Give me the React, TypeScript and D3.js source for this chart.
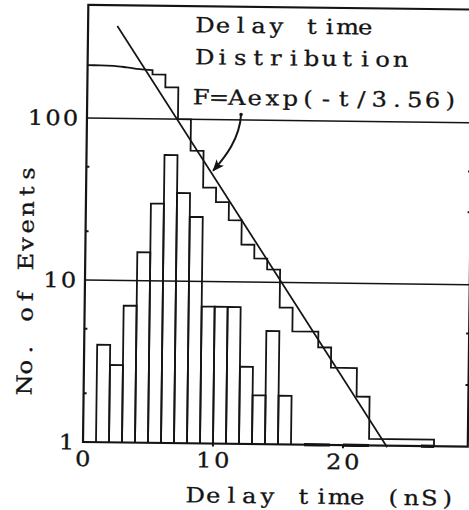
import React from 'react';
import * as d3 from 'd3';

// ---- data ----
const binStarts = [1, 2, 3, 4, 5, 6, 7, 8, 9, 10, 11, 12, 13, 14, 15, 17, 18, 20, 21, 26];
const binCounts = [4, 3, 7, 15, 30, 60, 35, 25, 7, 7, 7, 3, 2, 5, 2, 1, 1, 1, 1, 1];

const headTimes = [0, 1, 2, 3, 4, 5];
const headCounts = [212, 212, 211, 207, 202, 200];
const stepStarts = [5, 6, 7, 8, 9, 10, 11, 12, 13, 14, 15, 16, 18, 19, 21, 22];
const stepEnds = [6, 7, 8, 9, 10, 11, 12, 13, 14, 15, 16, 18, 19, 21, 22, 27];
const stepCounts = [188, 157, 100, 64, 38, 31, 24, 17, 14, 12, 7, 5, 4, 3, 2, 1.1];

const fitA = 700;
const fitTau = 3.56;
const fitRange = [2.25, 23.4];

const yTickValues = [1, 10, 100];
const yTickLabels = ['1', '10', '100'];
const yGridValues = [10, 100];
const yMinorLeft = [2, 5, 20, 50];
const yMinorRight = [2.4, 5, 28, 50];
const xTickValues = [0, 10, 20];
const xTickLabels = ['0', '10', '20'];
const xMinor = [10, 20];

const titleLines = ['Delay time', 'Distribution'];
const fitLabel = 'F=Aexp(-t/3.56)';
const xTitle = 'Delay time (nS)';
const yTitle = 'No. of Events';
const arrowFrom = [11.85, 108];
const arrowTo = [9.6, 47];

// ---- layout ----
const W = 469;
const H = 510;
const INK = '#141414';
const FONT = '"DejaVu Serif", "Liberation Serif", serif';
const FS = 21;
const SX = 1.15;
const PITCH = 17.8;

const xs = d3.scaleLinear().domain([0, 29.6]).range([83, 467.8]);
const ys = d3.scaleLog().domain([1, 500]).range([442, 4.8]);

const centersFrom = (str: string, x0: number, pitch: number) => Array.from(str).map((_, i) => x0 + i * pitch);

function MonoText({ text, centers, y }: { text: string; centers: number[]; y: number }) {
  return (
    <text
      transform={`scale(${SX},1)`}
      x={centers.map((c) => (c / SX).toFixed(2)).join(' ')}
      y={y}
      style={{ whiteSpace: 'pre' }}
    >
      {text}
    </text>
  );
}

export default function App() {
  const y1 = ys(1);

  const bars = binStarts.map((s, i) => {
    const x0 = xs(s);
    const x1 = xs(s + 1);
    const c = binCounts[i];
    if (c <= 1) {
      return <line key={i} x1={x0} x2={x1} y1={y1} y2={y1} stroke={INK} strokeWidth={3.2} />;
    }
    const yt = ys(c);
    return (
      <path key={i} d={`M${x0},${y1}V${yt}H${x1}V${y1}`} fill="none" stroke={INK} strokeWidth={1.8} />
    );
  });

  const headLine = d3
    .line<number>()
    .x((_, i) => xs(headTimes[i]))
    .y((d) => ys(d))
    .curve(d3.curveMonotoneX);
  const headD = headLine(headCounts) || '';
  const stepsD =
    stepStarts.map((s, i) => `L${xs(s)},${ys(stepCounts[i])}L${xs(stepEnds[i])},${ys(stepCounts[i])}`).join('') +
    `L${xs(stepEnds[stepEnds.length - 1])},${y1}`;

  const fitPts = fitRange.map((t) => [xs(t), ys(fitA * Math.exp(-t / fitTau))]);

  const ax0 = xs(arrowFrom[0]);
  const ay0 = ys(arrowFrom[1]);
  const ax1 = xs(arrowTo[0]);
  const ay1 = ys(arrowTo[1]);
  const arrowD = `M${ax0},${ay0}C${ax0 - 1},${ay0 + 24} ${ax1 + 14},${ay1 - 16} ${ax1 + 2},${ay1 - 2}`;

  return (
    <svg
      width={W}
      height={H}
      viewBox={`0 0 ${W} ${H}`}
      style={{ position: 'absolute', left: 0, top: 0, background: '#fff' }}
    >
      <defs>
        <marker id="ah" markerUnits="userSpaceOnUse" markerWidth={14} markerHeight={12} refX={11} refY={5} orient="auto">
          <path d="M0,0 L12,5 L0,10 L3,5 Z" fill={INK} />
        </marker>
      </defs>
      <rect x={0} y={0} width={W} height={H} fill="#fff" />
      <g transform="rotate(0.7, 83, 442)">
        {/* frame */}
        <rect
          x={xs(0)}
          y={ys(500)}
          width={xs(29.6) - xs(0)}
          height={ys(1) - ys(500)}
          fill="none"
          stroke={INK}
          strokeWidth={2.2}
        />
        {/* grid lines */}
        {yGridValues.map((v) => (
          <line key={v} x1={xs(0)} x2={xs(29.6)} y1={ys(v)} y2={ys(v)} stroke={INK} strokeWidth={1.6} />
        ))}
        {/* minor ticks */}
        {yMinorLeft.map((v) => (
          <line key={'l' + v} x1={xs(0)} x2={xs(0) + 3} y1={ys(v)} y2={ys(v)} stroke={INK} strokeWidth={2} />
        ))}
        {yMinorRight.map((v) => (
          <line key={'r' + v} x1={xs(29.6)} x2={xs(29.6) - 3} y1={ys(v)} y2={ys(v)} stroke={INK} strokeWidth={2} />
        ))}
        {xMinor.map((v) => (
          <line key={'x' + v} x1={xs(v)} x2={xs(v)} y1={y1} y2={y1 + 3} stroke={INK} strokeWidth={2} />
        ))}
        {/* differential histogram */}
        {bars}
        {/* integral distribution */}
        <path d={headD + stepsD} fill="none" stroke={INK} strokeWidth={1.8} />
        {/* fit line */}
        <line
          x1={fitPts[0][0]}
          y1={fitPts[0][1]}
          x2={fitPts[1][0]}
          y2={fitPts[1][1]}
          stroke={INK}
          strokeWidth={1.7}
        />
        {/* arrow */}
        <circle cx={ax0} cy={ay0} r={1.8} fill={INK} />
        <path d={arrowD} fill="none" stroke={INK} strokeWidth={2} markerEnd="url(#ah)" />

        {/* texts */}
        <g fill={INK} stroke={INK} strokeWidth={0.3} fontFamily={FONT} fontSize={FS} textAnchor="middle">
          <MonoText text={titleLines[0]} centers={centersFrom(titleLines[0], 200, PITCH)} y={31} />
          <MonoText text={titleLines[1]} centers={centersFrom(titleLines[1], 200, PITCH)} y={63} />
          <MonoText text={fitLabel} centers={centersFrom(fitLabel, 197, PITCH)} y={103} />
          {yTickValues.map((v, i) => {
            const lab = yTickLabels[i];
            const n = lab.length;
            return (
              <MonoText
                key={v}
                text={lab}
                centers={centersFrom(lab, 66.5 - (n - 1) * 17.5, 17.5)}
                y={ys(v) + 7.5}
              />
            );
          })}
          {xTickValues.map((v, i) => {
            const lab = xTickLabels[i];
            const n = lab.length;
            return (
              <MonoText
                key={v}
                text={lab}
                centers={centersFrom(lab, xs(v) - ((n - 1) / 2) * PITCH, PITCH)}
                y={466}
              />
            );
          })}
          <MonoText text={xTitle} centers={centersFrom(xTitle, 196, 18)} y={501} />
          <text
            transform={`rotate(-90) scale(${SX},1)`}
            x={Array.from(yTitle)
              .map((_, i) => (-(385.5 - i * 17.6) / SX).toFixed(2))
              .join(' ')}
            y={31}
            style={{ whiteSpace: 'pre' }}
          >
            {yTitle}
          </text>
        </g>
      </g>
    </svg>
  );
}
